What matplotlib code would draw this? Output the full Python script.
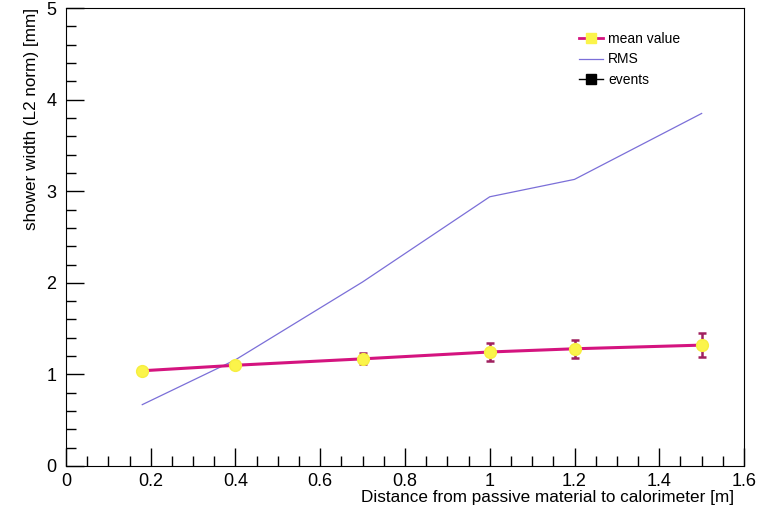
import matplotlib
matplotlib.use("Agg")
import matplotlib.pyplot as plt
from matplotlib.ticker import MultipleLocator
from matplotlib.lines import Line2D

distance = [0.18, 0.4, 0.7, 1.0, 1.2, 1.5]
mean_width = [1.04, 1.10, 1.17, 1.245, 1.28, 1.32]
mean_err = [0.02, 0.02, 0.06, 0.10, 0.10, 0.13]
rms_width = [0.67, 1.16, 2.01, 2.94, 3.13, 3.85]

plt.rcParams['font.family'] = ['Liberation Sans', 'DejaVu Sans']

fig = plt.figure(figsize=(7.62, 5.09), dpi=100)
ax = fig.add_axes([0.0866, 0.0845, 0.8898, 0.8995])

mag = '#d4147f'
ax.plot(distance, rms_width, color='#7b6fd8', lw=0.9, zorder=2)
ax.plot(distance, mean_width, color=mag, lw=2.2, zorder=3)
ax.errorbar(distance, mean_width, yerr=mean_err, fmt='none', ecolor='#a0205f',
            elinewidth=1.8, capsize=3, capthick=1.8, zorder=4)
ax.plot(distance, mean_width, 'o', color='#fbf44a', ms=8.5, mec='#f6ee40', zorder=5)

ax.set_xlim(0, 1.6)
ax.set_ylim(0, 5)
ax.xaxis.set_major_locator(MultipleLocator(0.2))
ax.xaxis.set_minor_locator(MultipleLocator(0.05))
ax.yaxis.set_major_locator(MultipleLocator(1))
ax.yaxis.set_minor_locator(MultipleLocator(0.2))
ax.set_xticks([0, 0.2, 0.4, 0.6, 0.8, 1.0, 1.2, 1.4, 1.6])
ax.set_xticklabels(['0', '0.2', '0.4', '0.6', '0.8', '1', '1.2', '1.4', '1.6'])
ax.tick_params(which='both', direction='in', top=False, right=False, labelsize=13)
ax.tick_params(which='major', length=13, width=1)
ax.tick_params(which='minor', length=7, width=1)
ax.tick_params(axis='x', pad=5)
ax.tick_params(axis='y', pad=7)

ax.set_xlabel('Distance from passive material to calorimeter [m]', fontsize=12.3, labelpad=1)
ax.xaxis.set_label_coords(0.985, -0.052)
ax.xaxis.label.set_horizontalalignment('right')
ax.set_ylabel('shower width (L2 norm) [mm]', fontsize=12.3, loc='top', labelpad=5)

handles = [
    Line2D([], [], color=mag, lw=2, marker='s', ms=6.5, mfc='#fbf44a', mec='#fbf44a'),
    Line2D([], [], color='#7b6fd8', lw=0.9),
    Line2D([], [], color='black', lw=1, marker='s', ms=7),
]
ax.legend(handles, ['mean value', 'RMS', 'events'], loc='upper left',
          bbox_to_anchor=((579 - 66) / 678, (466 - 32) / 458), frameon=False, fontsize=10,
          borderaxespad=0, borderpad=0,
          handlelength=1.75, handletextpad=0.35, labelspacing=0.45)

fig.savefig('out.png', dpi=100)
